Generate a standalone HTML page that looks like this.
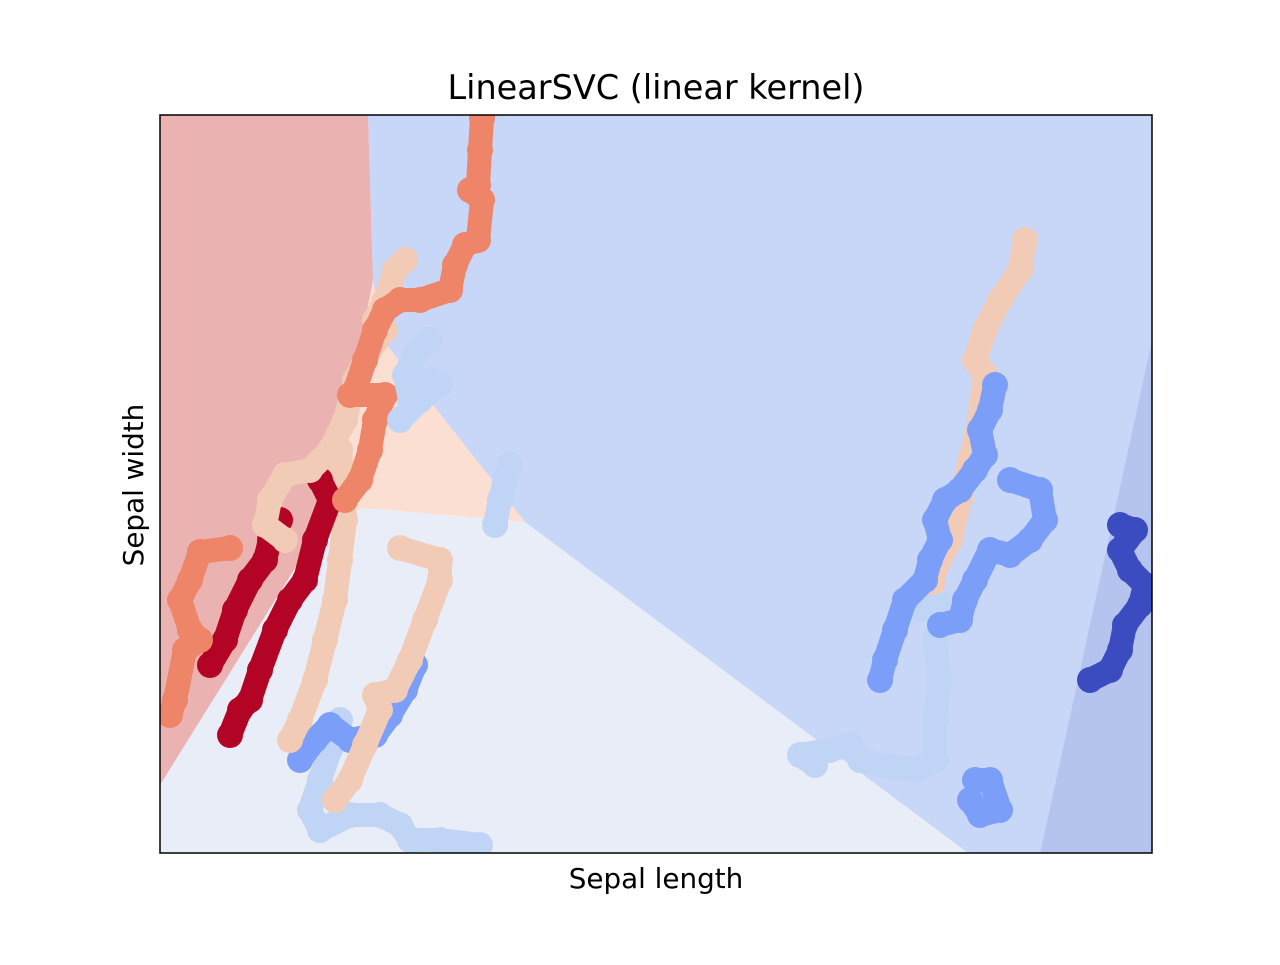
<!DOCTYPE html>
<html><head><meta charset="utf-8"><style>
html,body{margin:0;padding:0;background:#fff;}
svg text{font-family:"DejaVu Sans","Liberation Sans",sans-serif;}
</style></head><body>
<svg id="chart" width="1280" height="960" viewBox="0 0 1280 960" xmlns="http://www.w3.org/2000/svg">
<text x="656" y="99" font-size="33.5" text-anchor="middle">LinearSVC (linear kernel)</text>
<text x="656" y="888" font-size="27.8" text-anchor="middle">Sepal length</text>
<text x="143" y="485" font-size="27.8" text-anchor="middle" transform="rotate(-90 143 485)">Sepal width</text>
<defs><clipPath id="pc"><rect x="160" y="115" width="992" height="738"/></clipPath></defs>
<g id="regions" clip-path="url(#pc)"></g>
<g id="points" clip-path="url(#pc)"></g>
<rect x="160" y="115" width="992" height="738" fill="none" stroke="#000" stroke-width="1.5"/>
</svg>
<script>
// data domain: x 0..992, y 0..738
const xDomain=[0,992], yDomain=[0,738];
const regionRed=[[0,738],[208,738],[213,573],[180,403],[165,333],[0,68]];
const regionPeach=[[213,573],[223,513],[273,448],[365,331],[205,345],[165,333],[180,403]];
const regionLight=[[205,345],[365,331],[808,0],[0,0],[0,68],[165,333]];
const regionBlue=[[208,738],[992,738],[992,513],[880,0],[808,0],[365,331],[273,448],[223,513],[213,573]];
const regionDark=[[992,513],[992,0],[880,0]];
const salmonA=[[322,735],[320,703],[318,668],[310,663],[322,653],[318,613],[305,608],[295,588],[290,563],[260,553],[240,553],[225,543],[215,523],[205,493],[195,463],[190,458],[225,458],[215,433],[210,403],[200,373],[185,353]];
const salmonB=[[70,305],[40,301],[30,273],[20,253],[30,223],[40,213],[25,203],[15,153],[10,138]];
const peachA=[[245,593],[235,583],[225,553],[215,533],[225,523],[210,503],[195,473],[185,433],[170,403],[150,383],[125,378],[110,353],[105,328],[125,313]];
const peachB=[[180,403],[185,333],[180,293],[175,253],[165,213],[155,173],[140,133],[130,113]];
const peachC=[[240,305],[280,293],[280,273],[265,233],[250,193],[235,163],[215,158],[220,143],[205,108],[190,73],[175,53]];
const peachD=[[865,613],[860,583],[840,553],[825,523],[815,493],[825,478],[818,423],[810,393],[800,353],[790,313],[775,283],[770,253],[755,243]];
const darkRed=[[160,373],[170,353],[155,313],[145,273],[130,253],[115,223],[100,183],[90,153],[80,143],[70,118]];
const darkRed2=[[120,333],[110,313],[105,293],[90,273],[75,243],[65,213],[50,188]];
const lightBlueA=[[270,513],[255,498],[245,478],[250,453],[260,458],[270,473],[280,468],[260,453],[240,433]];
const lightBlueB=[[350,388],[345,373],[340,353],[335,328]];
const lightBlueC=[[180,133],[170,103],[160,73],[150,43],[160,23],[190,38],[220,38],[240,28],[250,13],[280,13],[320,8]];
const lightBlueD=[[755,243],[785,248],[775,213],[780,173],[775,133],[775,93],[755,83],[720,88],[700,93],[690,108],[670,103],[640,98],[655,88]];
const medBlueA=[[140,93],[155,113],[170,128],[190,113],[215,118],[230,138],[245,163],[255,188]];
const medBlueB=[[835,468],[830,443],[820,423],[825,398],[815,383],[800,363],[785,353],[775,333],[780,313],[770,293],[765,273],[745,253],[735,223],[725,193],[720,173]];
const medBlueC=[[850,373],[880,363],[885,333],[870,313],[850,298],[830,303],[815,273],[805,253],[800,233],[780,228]];
const medBlueD=[[815,73],[830,73],[840,43],[820,38],[810,53]];
const darkBlue=[[960,328],[975,323],[960,303],[970,283],[985,268],[980,248],[965,228],[960,203],[950,183],[930,173]];
const sx=v=>160+(v-xDomain[0])/(xDomain[1]-xDomain[0])*992;
const sy=v=>853-(v-yDomain[0])/(yDomain[1]-yDomain[0])*738;
const NS='http://www.w3.org/2000/svg';
const rg=document.getElementById('regions'), pg=document.getElementById('points');
function poly(pts,fill,name){const p=document.createElementNS(NS,'polygon');
p.setAttribute('points',pts.map(d=>sx(d[0])+','+sy(d[1])).join(' '));
p.setAttribute('fill',fill);


rg.appendChild(p);}
poly(regionLight,'#e8edf7','region-class-1');
poly(regionBlue,'#c8d6f8','region-class-2');
poly(regionDark,'#b5c3ef','region-class-3');
poly(regionPeach,'#fbdfd3','region-class-4');
poly(regionRed,'#eab2b0','region-class-5');
function trace(pts,col,name){const p=document.createElementNS(NS,'path');
p.setAttribute('d',pts.map((d,i)=>(i?'L':'M')+sx(d[0])+' '+sy(d[1])).join(''));
p.setAttribute('fill','none');p.setAttribute('stroke',col);p.setAttribute('stroke-width','24');
p.setAttribute('stroke-linecap','round');p.setAttribute('stroke-linejoin','round');


pg.appendChild(p);
pts.forEach(d=>{const c=document.createElementNS(NS,'circle');
c.setAttribute('cx',sx(d[0]));c.setAttribute('cy',sy(d[1]));c.setAttribute('r','13');c.setAttribute('fill',col);


pg.appendChild(c);});}
trace(lightBlueC,'#c0d4f5','trace-light-blue');
trace(medBlueA,'#7b9ff9','trace-medium-blue');
trace(peachC,'#f2cbb7','trace-peach');
trace(peachB,'#f2cbb7','trace-peach');
trace(darkRed2,'#b40426','trace-dark-red');
trace(darkRed,'#b40426','trace-dark-red');
trace(peachA,'#f2cbb7','trace-peach');
trace(salmonB,'#ee8468','trace-salmon');
trace(salmonA,'#ee8468','trace-salmon');
trace(lightBlueA,'#c0d4f5','trace-light-blue');
trace(lightBlueB,'#c0d4f5','trace-light-blue');
trace(peachD,'#f2cbb7','trace-peach');
trace(lightBlueD,'#c0d4f5','trace-light-blue');
trace(medBlueB,'#7b9ff9','trace-medium-blue');
trace(medBlueC,'#7b9ff9','trace-medium-blue');
trace(medBlueD,'#7b9ff9','trace-medium-blue');
trace(darkBlue,'#3b4cc0','trace-dark-blue');
</script>
</body></html>
